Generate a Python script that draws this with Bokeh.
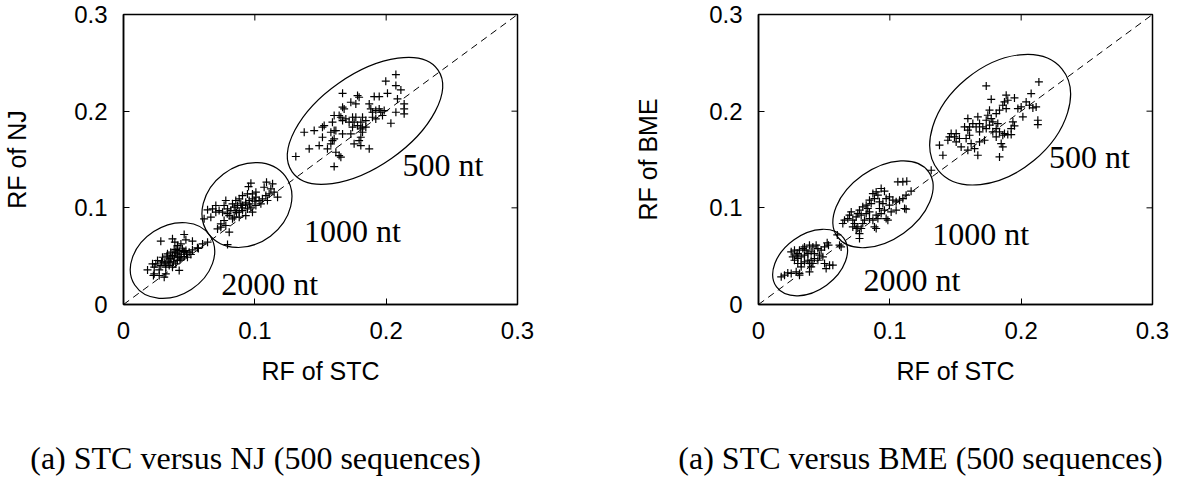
import math
from bokeh.plotting import figure
from bokeh.models import FixedTicker, NumeralTickFormatter, Range1d
from bokeh.layouts import row, column
from bokeh.embed import file_html
from bokeh.resources import INLINE
from bokeh.core.properties import value

# ---------------- data ----------------
tick_values = [0.0, 0.1, 0.2, 0.3]
x_label = "RF of STC"
y_label_nj = "RF of NJ"
y_label_bme = "RF of BME"
cluster_names = ["2000 nt", "1000 nt", "500 nt"]
captions = ["(a) STC versus NJ (500 sequences)", "(a) STC versus BME (500 sequences)"]

# STC vs NJ, 2000 nt
nj2000_x = [0.0284, 0.0373, 0.0391, 0.0462, 0.0475, 0.0525, 0.0411, 0.0437, 0.0183, 0.0234,
            0.0272, 0.0310, 0.0322, 0.0246, 0.0259, 0.0297, 0.0335, 0.0348, 0.0373, 0.0398,
            0.0424, 0.0449, 0.0475, 0.0500, 0.0525, 0.0563, 0.0602, 0.0640, 0.0424, 0.0398,
            0.0373, 0.0348, 0.0322, 0.0284, 0.0310, 0.0360, 0.0411, 0.0437, 0.0462, 0.0487,
            0.0513, 0.0462, 0.0424, 0.0411, 0.0386, 0.0360, 0.0322, 0.0272, 0.0234, 0.0221,
            0.0228, 0.0360, 0.0390, 0.0410, 0.0440, 0.0380, 0.0460, 0.0430, 0.0340, 0.0400,
            0.0480, 0.0290, 0.0330, 0.0570]
nj2000_y = [0.0655, 0.0679, 0.0645, 0.0724, 0.0669, 0.0655, 0.0610, 0.0627, 0.0358, 0.0317,
            0.0300, 0.0283, 0.0317, 0.0421, 0.0455, 0.0489, 0.0524, 0.0472, 0.0507, 0.0541,
            0.0558, 0.0576, 0.0558, 0.0541, 0.0565, 0.0586, 0.0627, 0.0645, 0.0489, 0.0421,
            0.0386, 0.0403, 0.0386, 0.0403, 0.0438, 0.0438, 0.0455, 0.0472, 0.0496, 0.0489,
            0.0517, 0.0541, 0.0352, 0.0524, 0.0565, 0.0541, 0.0421, 0.0358, 0.0386, 0.0421,
            0.0300, 0.0480, 0.0500, 0.0490, 0.0520, 0.0440, 0.0550, 0.0460, 0.0450, 0.0570,
            0.0520, 0.0440, 0.0500, 0.0580]

# STC vs NJ, 1000 nt
nj1000_x = [0.0970, 0.0952, 0.1089, 0.1135, 0.1122, 0.1071, 0.1008, 0.0982, 0.0944, 0.0906,
            0.0881, 0.0855, 0.0830, 0.0779, 0.0766, 0.0703, 0.0678, 0.0640, 0.0614, 0.0665,
            0.0703, 0.0728, 0.0754, 0.0792, 0.0817, 0.0843, 0.0868, 0.0893, 0.0931, 0.0957,
            0.0982, 0.1008, 0.1033, 0.1058, 0.1084, 0.1109, 0.1147, 0.1173, 0.1096, 0.1046,
            0.1008, 0.0970, 0.0944, 0.0906, 0.0881, 0.0855, 0.0805, 0.0766, 0.0741, 0.0716,
            0.0741, 0.0779, 0.0805, 0.0843, 0.0931, 0.0982, 0.0906, 0.0830, 0.0881, 0.0792,
            0.0900, 0.0930, 0.0860, 0.0960, 0.0790, 0.1000]
nj1000_y = [0.1255, 0.1220, 0.1265, 0.1248, 0.1196, 0.1213, 0.1162, 0.1144, 0.1144, 0.1127,
            0.1093, 0.1076, 0.1041, 0.1076, 0.1024, 0.1024, 0.0989, 0.0979, 0.0886, 0.0903,
            0.0955, 0.0972, 0.0955, 0.0989, 0.0972, 0.1007, 0.1024, 0.1041, 0.1058, 0.1076,
            0.1093, 0.1110, 0.1076, 0.1093, 0.1127, 0.1144, 0.1162, 0.1110, 0.1076, 0.1041,
            0.1024, 0.1007, 0.0989, 0.0972, 0.0955, 0.0972, 0.0920, 0.0869, 0.0834, 0.0782,
            0.0800, 0.0817, 0.0748, 0.0903, 0.0920, 0.0955, 0.1024, 0.0886, 0.0903, 0.0620,
            0.1000, 0.1030, 0.0950, 0.1040, 0.0940, 0.1070]

# STC vs NJ, 500 nt
nj500_x = [0.2074, 0.1997, 0.2074, 0.2112, 0.2010, 0.1668, 0.1782, 0.1794, 0.1909, 0.1947,
           0.2086, 0.2137, 0.2137, 0.2137, 0.2074, 0.2036, 0.1871, 0.1883, 0.1896, 0.1921,
           0.1959, 0.1947, 0.1972, 0.1985, 0.1845, 0.1820, 0.1807, 0.1769, 0.1756, 0.1744,
           0.1718, 0.1693, 0.1680, 0.1668, 0.1655, 0.1668, 0.1731, 0.1769, 0.1604, 0.1591,
           0.1604, 0.1528, 0.1515, 0.1452, 0.1376, 0.1617, 0.1668, 0.1731, 0.1807, 0.1820,
           0.1807, 0.1794, 0.1756, 0.1807, 0.1871, 0.1845, 0.1820, 0.1782, 0.1744, 0.1642,
           0.1604, 0.1579, 0.1553, 0.1490, 0.1515, 0.1414, 0.1312, 0.1617, 0.1642, 0.1655,
           0.1604, 0.1579, 0.1591, 0.1896, 0.1921]
nj500_y = [0.2379, 0.2310, 0.2265, 0.2220, 0.2185, 0.2185, 0.2161, 0.2144, 0.2151, 0.2151,
           0.2127, 0.2075, 0.2023, 0.1972, 0.1989, 0.1875, 0.2075, 0.2023, 0.1989, 0.2006,
           0.1989, 0.2023, 0.1955, 0.2006, 0.1903, 0.1937, 0.1886, 0.1937, 0.1886, 0.1834,
           0.1886, 0.1920, 0.2023, 0.2041, 0.1937, 0.1903, 0.2092, 0.2075, 0.1955, 0.1886,
           0.1799, 0.1851, 0.1834, 0.1799, 0.1782, 0.1799, 0.1765, 0.1765, 0.1817, 0.1782,
           0.1730, 0.1696, 0.1662, 0.1644, 0.1610, 0.1834, 0.1834, 0.1851, 0.1937, 0.1955,
           0.1713, 0.1662, 0.1610, 0.1644, 0.1730, 0.1610, 0.1531, 0.1575, 0.1541, 0.1524,
           0.1427, 0.1782, 0.1696, 0.1937, 0.1920]

# STC vs BME, 2000 nt
bme2000_x = [0.0249, 0.0274, 0.0287, 0.0299, 0.0312, 0.0338, 0.0350, 0.0363, 0.0388, 0.0414,
             0.0439, 0.0452, 0.0477, 0.0503, 0.0523, 0.0533, 0.0617, 0.0629, 0.0261, 0.0274,
             0.0299, 0.0325, 0.0350, 0.0376, 0.0401, 0.0426, 0.0464, 0.0490, 0.0350, 0.0376,
             0.0401, 0.0426, 0.0452, 0.0388, 0.0414, 0.0325, 0.0299, 0.0388, 0.0401, 0.0287,
             0.0249, 0.0223, 0.0198, 0.0173, 0.0312, 0.0312, 0.0515, 0.0541, 0.0566, 0.0503,
             0.0325, 0.0600]
bme2000_y = [0.0545, 0.0562, 0.0510, 0.0527, 0.0562, 0.0579, 0.0596, 0.0562, 0.0614, 0.0596,
             0.0614, 0.0579, 0.0562, 0.0596, 0.0638, 0.0614, 0.0614, 0.0596, 0.0493, 0.0458,
             0.0476, 0.0493, 0.0510, 0.0527, 0.0545, 0.0527, 0.0510, 0.0493, 0.0441, 0.0458,
             0.0458, 0.0476, 0.0458, 0.0424, 0.0424, 0.0424, 0.0424, 0.0338, 0.0390, 0.0338,
             0.0321, 0.0327, 0.0303, 0.0286, 0.0321, 0.0303, 0.0372, 0.0407, 0.0407, 0.0424,
             0.0390, 0.0720]

# STC vs BME, 1000 nt
bme1000_x = [0.1061, 0.1099, 0.1129, 0.1162, 0.1124, 0.1099, 0.1074, 0.1112, 0.1124, 0.1048,
             0.1010, 0.0972, 0.0985, 0.0934, 0.0921, 0.0947, 0.0972, 0.0997, 0.1023, 0.1048,
             0.0934, 0.0959, 0.0896, 0.0909, 0.0871, 0.0883, 0.0845, 0.0858, 0.0820, 0.0832,
             0.0794, 0.0769, 0.0756, 0.0782, 0.0744, 0.0706, 0.0693, 0.0680, 0.0655, 0.0642,
             0.0718, 0.0731, 0.0756, 0.0782, 0.0744, 0.0769, 0.0769, 0.0883, 0.0896, 0.0871,
             0.0845, 0.0896, 0.0909, 0.0820, 0.0807, 0.0845, 0.0794, 0.0718, 0.0997, 0.0921,
             0.0959]
bme1000_y = [0.1269, 0.1269, 0.1275, 0.1172, 0.1131, 0.1096, 0.1079, 0.0993, 0.0986, 0.0976,
             0.0958, 0.0889, 0.0872, 0.0941, 0.0993, 0.1044, 0.1096, 0.1113, 0.1079, 0.1062,
             0.1200, 0.1172, 0.1165, 0.1131, 0.1148, 0.1096, 0.1079, 0.1044, 0.1027, 0.0993,
             0.1010, 0.0976, 0.0941, 0.0924, 0.0907, 0.0958, 0.0924, 0.0889, 0.0872, 0.0838,
             0.0872, 0.0838, 0.0803, 0.0786, 0.0786, 0.0734, 0.0683, 0.0803, 0.0786, 0.0872,
             0.0889, 0.0924, 0.0889, 0.0941, 0.0872, 0.0958, 0.0838, 0.0803, 0.1027, 0.1062,
             0.0976]

# STC vs BME, 500 nt
bme500_x = [0.1734, 0.2135, 0.2076, 0.1772, 0.1886, 0.1898, 0.1949, 0.2038, 0.2063, 0.2089,
            0.2114, 0.2000, 0.1975, 0.2013, 0.2127, 0.2127, 0.1937, 0.1949, 0.1924, 0.1873,
            0.1860, 0.1886, 0.1835, 0.1810, 0.1759, 0.1746, 0.1772, 0.1734, 0.1670, 0.1683,
            0.1657, 0.1683, 0.1607, 0.1594, 0.1607, 0.1581, 0.1619, 0.1645, 0.1670, 0.1594,
            0.1683, 0.1543, 0.1530, 0.1505, 0.1505, 0.1467, 0.1454, 0.1442, 0.1492, 0.1378,
            0.1404, 0.1822, 0.1810, 0.1835, 0.1784, 0.1810, 0.1860, 0.1873, 0.1898, 0.1924,
            0.1848, 0.1860, 0.1835, 0.1759, 0.1784, 0.1734, 0.1708, 0.1569, 0.1632, 0.1721,
            0.1594, 0.1315]
bme500_y = [0.2261, 0.2303, 0.2182, 0.2123, 0.2165, 0.2113, 0.2137, 0.2096, 0.2061, 0.2034,
            0.2044, 0.2044, 0.2027, 0.1941, 0.1906, 0.1861, 0.1889, 0.1848, 0.1820, 0.2096,
            0.2061, 0.2027, 0.2010, 0.1975, 0.2010, 0.1958, 0.1923, 0.1906, 0.1941, 0.1872,
            0.1837, 0.1786, 0.1837, 0.1803, 0.1751, 0.1717, 0.1665, 0.1613, 0.1544, 0.1596,
            0.1682, 0.1630, 0.1717, 0.1682, 0.1768, 0.1768, 0.1734, 0.1699, 0.1734, 0.1648,
            0.1544, 0.1872, 0.1820, 0.1786, 0.1786, 0.1734, 0.1751, 0.1768, 0.1758, 0.1758,
            0.1665, 0.1630, 0.1527, 0.1855, 0.1889, 0.1820, 0.1837, 0.1837, 0.1872, 0.1699,
            0.1923, 0.1389]

# ---------------- annotation geometry ----------------
# ellipses: centre (data), semi-axes (screen px), tilt (deg)
nj_ellipses = [(0.0373, 0.0455, 45, 34.5, 33), (0.0940, 0.1029, 48, 39, 37), (0.1839, 0.1900, 89, 46, 35)]
bme_ellipses = [(0.0393, 0.0434, 41.5, 28, 36), (0.0948, 0.1037, 56, 35.5, 35.4), (0.1840, 0.1912, 80, 53, 39.5)]
# text anchors (vertical middle of the text)
nj_text_pos = [(0.0745, 0.0212), (0.1374, 0.0763), (0.2124, 0.1443)]
bme_text_pos = [(0.0800, 0.0253), (0.1323, 0.0732), (0.2212, 0.1526)]
# caption strip: centres of the two captions (px from left) and their height (px from bottom)
caption_cx = [255, 920]
caption_cy = [23, 23]

SANS = "Liberation Sans"
SERIF = "Liberation Serif"


def make_panel(clusters, ellipses, text_pos, ylab,
               border_left, border_right, border_top, border_bottom, ylab_standoff):
    p = figure(frame_width=394, frame_height=290,
               min_border_left=border_left, min_border_right=border_right,
               min_border_top=border_top, min_border_bottom=border_bottom,
               x_range=Range1d(0, 0.3), y_range=Range1d(0, 0.3),
               output_backend="svg", toolbar_location=None,
               x_axis_label=x_label, y_axis_label=ylab)
    p.xgrid.visible = False
    p.ygrid.visible = False
    p.outline_line_color = "black"
    p.outline_line_width = 1.5
    p.background_fill_color = "white"
    p.border_fill_color = "white"

    for ax in (p.xaxis[0], p.yaxis[0]):
        ax.ticker = FixedTicker(ticks=tick_values)
        ax.formatter = NumeralTickFormatter(format="0.[0]")
        ax.major_tick_in = 6
        ax.major_tick_out = 0
        ax.minor_tick_line_color = None
        ax.axis_line_color = "black"
        ax.axis_line_width = 1.5
        ax.major_tick_line_color = "black"
        ax.major_tick_line_width = 1
        ax.major_label_text_font = SANS
        ax.major_label_text_font_size = "24px"
        ax.major_label_text_color = "black"
        ax.axis_label_text_font = SANS
        ax.axis_label_text_font_size = "25px"
        ax.axis_label_text_font_style = "normal"
        ax.axis_label_text_color = "black"
    p.xaxis[0].major_label_standoff = 17
    p.xaxis[0].axis_label_standoff = 15
    p.yaxis[0].major_label_standoff = 16
    p.yaxis[0].axis_label_standoff = ylab_standoff

    # mirrored inward ticks on the top and right frame edges
    top = tick_values[-1]
    p.scatter(x=tick_values, y=[top] * len(tick_values), marker="dash", angle=math.pi / 2,
              size=12, line_color="black", line_width=1)
    p.scatter(x=[top] * len(tick_values), y=tick_values, marker="dash", angle=0,
              size=12, line_color="black", line_width=1)

    # diagonal y = x
    p.line(x=[tick_values[0], tick_values[-1]], y=[tick_values[0], tick_values[-1]],
           line_color="black", line_width=1, line_dash="7 5")

    for (xs, ys) in clusters:
        p.scatter(x=xs, y=ys, marker="cross", size=8, line_color="black",
                  line_width=1.2, fill_color=None)

    for (cx, cy, a, b, ang) in ellipses:
        p.ellipse(x=[cx], y=[cy], width=2 * a, height=2 * b, angle=ang,
                  angle_units="deg", width_units="screen", height_units="screen",
                  fill_color=None, line_color="black", line_width=1.2)

    p.text(x=[t[0] for t in text_pos], y=[t[1] for t in text_pos], text=cluster_names,
           text_font=value(SERIF), text_font_size="32px", text_color="black",
           text_align="left", text_baseline="middle")
    return p


p1 = make_panel([(nj2000_x, nj2000_y), (nj1000_x, nj1000_y), (nj500_x, nj500_y)],
                nj_ellipses, nj_text_pos, y_label_nj, 121, 82, 14, 104, 40)
p2 = make_panel([(bme2000_x, bme2000_y), (bme1000_x, bme1000_y), (bme500_x, bme500_y)],
                bme_ellipses, bme_text_pos, y_label_bme, 159, 31, 8, 110, 44)

# caption strip under the two panels
strip_w, strip_h = 1181, 72
cap = figure(frame_width=strip_w, frame_height=strip_h, min_border=0,
             x_range=Range1d(0, strip_w), y_range=Range1d(0, strip_h),
             output_backend="svg", toolbar_location=None)
cap.axis.visible = False
cap.grid.visible = False
cap.outline_line_color = None
cap.background_fill_color = "white"
cap.border_fill_color = "white"
cap.text(x=caption_cx, y=caption_cy, text=captions, text_font=value(SERIF),
         text_font_size="32px", text_color="black", text_align="center",
         text_baseline="middle")

layout = column(row(p1, p2), cap)
open("out.html", "w").write(file_html(layout, INLINE))
